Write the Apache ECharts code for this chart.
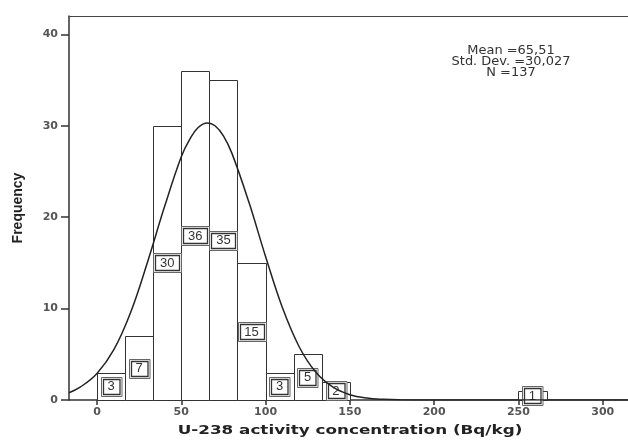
<!DOCTYPE html>
<html>
<head>
<meta charset="utf-8">
<script src="https://cdn.jsdelivr.net/npm/echarts@6/dist/echarts.min.js"></script>
<style>
  html, body { margin: 0; padding: 0; background: #fff; }
  #chart { width: 628px; height: 440px; }
</style>
</head>
<body>
<div id="chart"></div>
<script>
// histogram bins (Bq/kg) and counts
const binStarts = [0, 16.67, 33.33, 50, 66.67, 83.33, 100, 116.67, 133.33, 250];
const binEnds   = [16.67, 33.33, 50, 66.67, 83.33, 100, 116.67, 133.33, 150, 266.67];
const counts    = [3, 7, 30, 36, 35, 15, 3, 5, 2, 1];

// fitted normal curve
const curveX = [-16.6, -10, 0, 10, 20, 30, 40, 50, 55, 60, 65.5, 70, 75, 80, 90, 100, 110, 120, 130, 140, 150, 160, 170, 180, 200, 250, 315];
const curveY = [0.8, 1.4, 2.9, 5.5, 9.6, 15.1, 21.1, 26.6, 28.5, 29.8, 30.3, 30.0, 28.9, 27.0, 21.7, 15.7, 10.1, 5.8, 3.0, 1.4, 0.58, 0.21, 0.07, 0.02, 0, 0, 0];

const xTicks = [0, 50, 100, 150, 200, 250, 300];
const yTicks = [0, 10, 20, 30, 40];
const statsLines = ['Mean =65,51', 'Std. Dev. =30,027', 'N =137'];

const xName = 'U-238 activity concentration (Bq/kg)';
const yName = 'Frequency';

let barData = [];
for (let i = 0; i < counts.length; i++) {
    barData.push([binStarts[i], binEnds[i], counts[i]]);
}
let curveData = [];
for (let i = 0; i < curveX.length; i++) {
    curveData.push([curveX[i], curveY[i]]);
}

function renderBar(params, api) {
    let p0 = api.coord([api.value(0), 0]);
    let p1 = api.coord([api.value(1), api.value(2)]);
    return {
        type: 'rect',
        shape: { x: Math.round(p0[0]) + 0.5, y: Math.round(p1[1]) + 0.5,
                 width: Math.round(p1[0]) - Math.round(p0[0]), height: Math.round(p0[1]) - Math.round(p1[1]) },
        style: { fill: '#fff', stroke: '#333', lineWidth: 1 }
    };
}

function renderLabel(params, api) {
    let mid = (api.value(0) + api.value(1)) / 2;
    let c = api.coord([mid, api.value(2) / 2]);
    let txt = String(api.value(2));
    let w = 13 + txt.length * 7.5;
    let h = 19;
    let x = Math.round(c[0] - w / 2) + 0.5;
    let y = Math.round(c[1] - h / 2) + 0.5;
    return {
        type: 'group',
        children: [
            { type: 'rect', shape: { x: x, y: y, width: w, height: h },
              style: { fill: '#fff', stroke: '#666', lineWidth: 1 } },
            { type: 'rect', shape: { x: x + 2, y: y + 2, width: w - 4, height: h - 4 },
              style: { fill: '#fff', stroke: '#333', lineWidth: 1.3 } },
            { type: 'text',
              style: { text: txt, x: c[0], y: c[1] + 0.5, align: 'center', verticalAlign: 'middle',
                       fill: '#333', font: '13px "Liberation Sans", Arial, sans-serif' } }
        ]
    };
}

let statsGraphics = [];
for (let i = 0; i < statsLines.length; i++) {
    statsGraphics.push({
        type: 'text',
        x: 511, y: 51 + i * 11,
        scaleX: 1.08,
        style: {
            text: statsLines[i],
            align: 'center', textAlign: 'center',
            verticalAlign: 'middle', textVerticalAlign: 'middle',
            font: '12px "DejaVu Sans", sans-serif',
            fill: '#333'
        }
    });
}

let chart = echarts.init(document.getElementById('chart'), null, { renderer: 'canvas' });
chart.setOption({
    animation: false,
    backgroundColor: '#fff',
    grid: { left: 69, top: 16, right: 0, bottom: 40 },
    graphic: statsGraphics.concat([{
        type: 'text',
        x: 350, y: 431,
        scaleX: 1.29,
        style: {
            text: xName,
            align: 'center', textAlign: 'center',
            verticalAlign: 'middle', textVerticalAlign: 'middle',
            font: 'bold 13px "DejaVu Sans", sans-serif',
            fill: '#222'
        }
    }]),
    xAxis: [{
        type: 'value',
        min: -16.6,
        max: 315,
        axisLine: { show: true, onZero: false, lineStyle: { color: '#333', width: 1.5 } },
        axisTick: { show: true, length: 5, customValues: xTicks, lineStyle: { color: '#333', width: 1.5 } },
        axisLabel: { customValues: xTicks, margin: 7, color: '#555', fontSize: 11, fontWeight: 'bold',
                     fontFamily: 'DejaVu Sans' },
        splitLine: { show: false }
    }, {
        type: 'value',
        position: 'top',
        min: -16.6,
        max: 315,
        axisLine: { show: true, onZero: false, lineStyle: { color: '#444', width: 1.2 } },
        axisTick: { show: false },
        axisLabel: { show: false },
        splitLine: { show: false }
    }],
    yAxis: {
        type: 'value',
        min: 0,
        max: 42,
        name: yName,
        nameLocation: 'middle',
        nameGap: 44,
        nameTextStyle: { fontFamily: 'Liberation Sans', fontWeight: 'bold', fontSize: 14, color: '#222' },
        axisLine: { show: true, onZero: false, lineStyle: { color: '#333', width: 1.5 } },
        axisTick: { show: true, length: 8, customValues: yTicks, lineStyle: { color: '#333', width: 1.5 } },
        axisLabel: { customValues: yTicks, margin: 11, color: '#555', fontSize: 11, fontWeight: 'bold',
                     fontFamily: 'DejaVu Sans' },
        splitLine: { show: false }
    },
    series: [{
        type: 'custom',
        renderItem: renderBar,
        data: barData,
        encode: { x: [0, 1], y: 2 },
        z: 2,
        silent: true
    }, {
        type: 'custom',
        renderItem: renderLabel,
        data: barData,
        encode: { x: [0, 1], y: 2 },
        z: 3,
        silent: true
    }, {
        type: 'line',
        data: curveData,
        smooth: 0.4,
        showSymbol: false,
        symbol: 'none',
        lineStyle: { color: '#222', width: 1.5 },
        z: 4,
        silent: true
    }]
});
</script>
</body>
</html>
